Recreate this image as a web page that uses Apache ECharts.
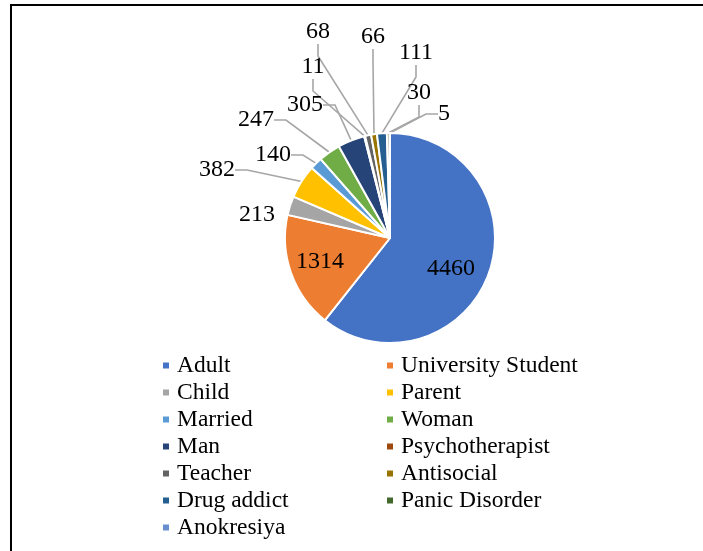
<!DOCTYPE html>
<html>
<head>
<meta charset="utf-8">
<script src="https://cdn.jsdelivr.net/npm/echarts@6/dist/echarts.min.js"></script>
<style>
  html, body { margin: 0; padding: 0; background: #fff; }
  #chart { width: 703px; height: 551px; }
</style>
</head>
<body>
<div id="chart"></div>
<script>
// data
const categories = ['Adult', 'University Student', 'Child', 'Parent', 'Married', 'Woman', 'Man',
  'Psychotherapist', 'Teacher', 'Antisocial', 'Drug addict', 'Panic Disorder', 'Anokresiya'];
const counts = [4460, 1314, 213, 382, 140, 247, 305, 11, 68, 66, 111, 30, 5];

// office palette
const colors = ['#4472C4', '#ED7D31', '#A5A5A5', '#FFC000', '#5B9BD5', '#70AD47', '#264478',
  '#9E480E', '#636363', '#997300', '#255E91', '#43682B', '#698ED0'];

// label centres (px), excel "best fit" places them by hand so we do too
const labelAt = [[451, 269], [320, 262], [257, 215], [217, 170], [273, 155], [256, 120], [305, 105],
  [313, 67], [318, 32], [373, 37], [416, 53], [419, 93], [444, 114]];
const insideIdx = [0, 1];
const noLineIdx = [2];

const font = 'Liberation Serif, Times New Roman, serif';

const pieData = categories.map((name, i) => {
  const item = { name: name, value: counts[i] };
  if (insideIdx.indexOf(i) >= 0) {
    item.label = { position: 'inside' };
    item.labelLine = { show: false };
  }
  if (noLineIdx.indexOf(i) >= 0) {
    item.labelLine = { show: false };
  }
  return item;
});

const legendBase = {
  orient: 'vertical',
  icon: 'rect',
  itemWidth: 8,
  itemHeight: 8,
  itemGap: 0,
  padding: 0,
  top: 352,
  textStyle: {
    fontFamily: font,
    fontSize: 23.5,
    color: '#000',
    lineHeight: 27,
    padding: [0, 0, 0, 2]
  }
};

const chart = echarts.init(document.getElementById('chart'), null, { renderer: 'canvas' });
chart.setOption({
  animation: false,
  backgroundColor: '#fff',
  color: colors,
  graphic: [{
    type: 'polyline',
    shape: { points: [[11, 551], [11, 5], [703, 5]] },
    style: { stroke: '#000', lineWidth: 2, fill: null }
  }],
  legend: [
    Object.assign({}, legendBase, { left: 161, data: categories.filter((c, i) => i % 2 === 0) }),
    Object.assign({}, legendBase, { left: 385, data: categories.filter((c, i) => i % 2 === 1) })
  ],
  series: [{
    type: 'pie',
    center: [390, 238],
    radius: 105,
    startAngle: 90,
    clockwise: true,
    avoidLabelOverlap: false,
    itemStyle: { borderColor: '#fff', borderWidth: 2 },
    label: {
      show: true,
      fontFamily: font,
      fontSize: 24,
      color: '#000',
      formatter: '{c}'
    },
    labelLine: {
      show: true,
      length: 10,
      length2: 12,
      lineStyle: { color: '#A6A6A6', width: 1.6 }
    },
    labelLayout: function (p) {
      const pos = labelAt[p.dataIndex];
      return {
        x: pos[0],
        y: pos[1],
        align: 'center',
        verticalAlign: 'middle',
        hideOverlap: false
      };
    },
    emphasis: { disabled: true },
    data: pieData
  }]
});
</script>
</body>
</html>
